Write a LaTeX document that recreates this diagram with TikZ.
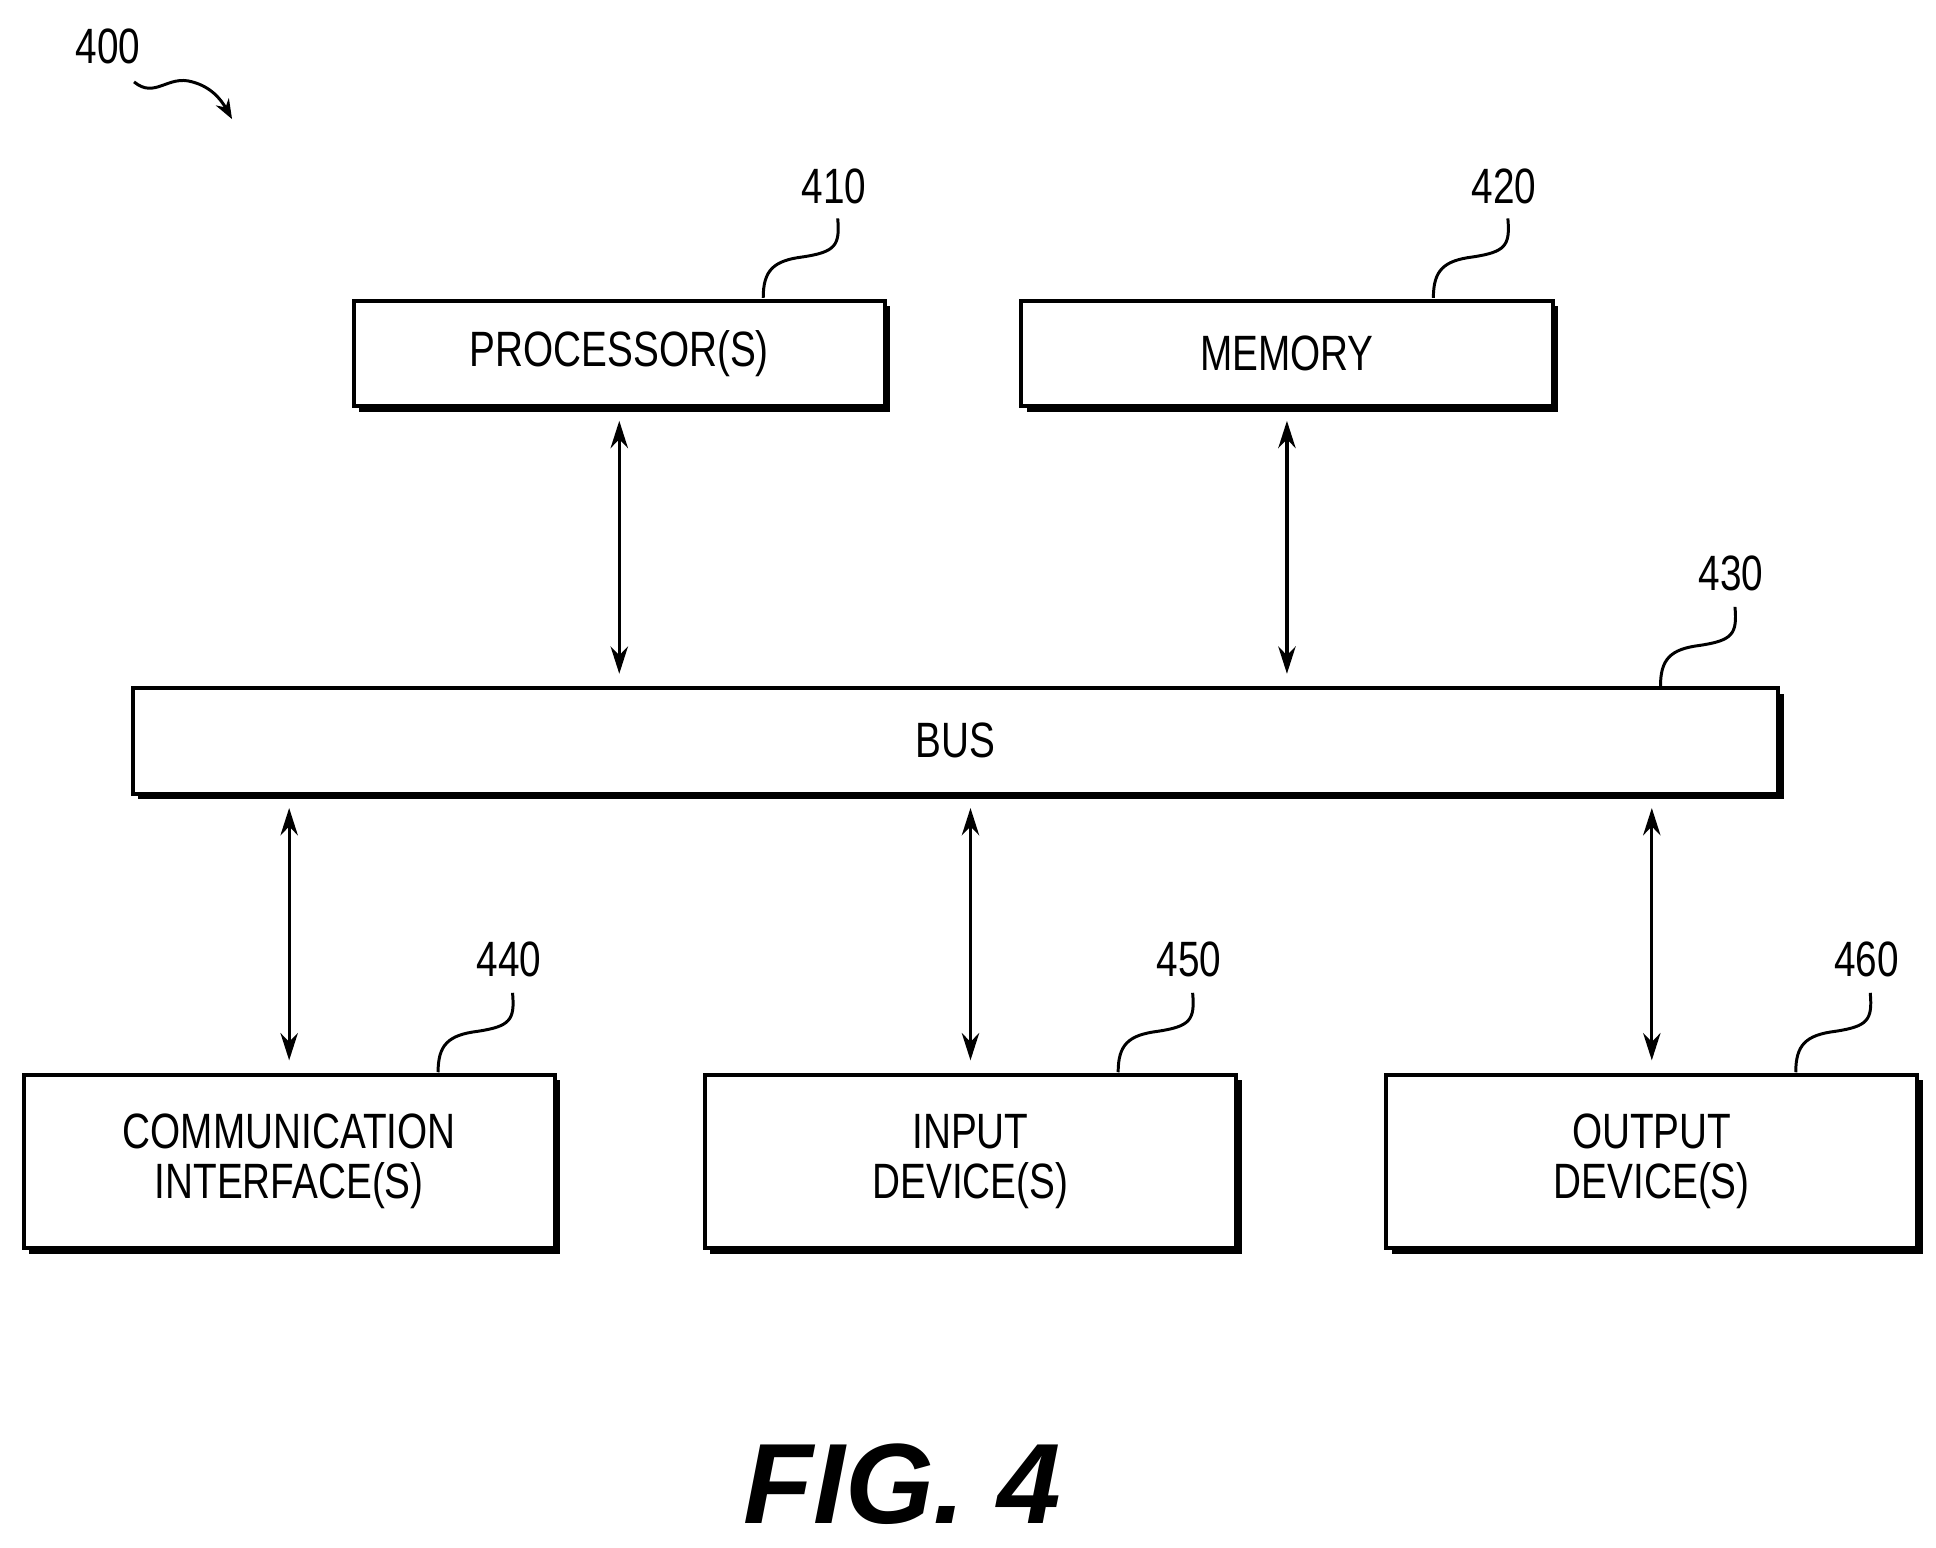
\documentclass[tikz,border=0pt]{standalone}
\usepackage{fontspec}
\setmainfont{Liberation Sans}[FakeStretch=0.78]
\newfontfamily\figfont{Liberation Sans}
\usetikzlibrary{arrows.meta,positioning,shadows,calc}

\tikzset{
  blk/.style={draw,line width=1.6pt,fill=white,minimum height=42.5pt,
    align=center,font=\fontsize{20}{20}\selectfont,
    drop shadow={shadow xshift=2.2pt,shadow yshift=-2.2pt,fill=black,opacity=1}},
  ref/.style={font=\fontsize{20}{20}\selectfont},
  bi/.style={{Stealth[length=11pt,width=7pt]}-{Stealth[length=11pt,width=7pt]},line width=1.3pt},
  lead/.style={line width=1.2pt}
}

\begin{document}
\begin{tikzpicture}[x=0.5pt,y=-0.5pt]
  \useasboundingbox (0,0) rectangle (1560,1247);

  % ---- Blocks ------------------------------------------------
  \node[blk,minimum width=214pt] (proc) at (499,285) {PROCESSOR(S)};
  \node[blk,minimum width=214pt] (mem)  at (1037,285) {MEMORY};
  \node[blk,minimum width=663pt] (bus)  at (770,597) {BUS};
  \node[blk,minimum width=214pt,minimum height=70pt] (comm) at (233,936)
    {COMMUNICATION\\INTERFACE(S)};
  \node[blk,minimum width=214pt,minimum height=70pt] (inp) at (782,936)
    {INPUT\\DEVICE(S)};
  \node[blk,minimum width=214pt,minimum height=70pt] (outp) at (1331,936)
    {OUTPUT\\DEVICE(S)};

  % ---- Bus connections ---------------------------------------
  \draw[bi] ([yshift=-5pt]proc.south) -- ([yshift=5pt]proc.south |- bus.north);
  \draw[bi] ([yshift=-5pt]mem.south) -- ([yshift=5pt]mem.south |- bus.north);
  \draw[bi] ([yshift=-5pt]comm.north |- bus.south) -- ([yshift=5pt]comm.north);
  \draw[bi] ([yshift=-5pt]inp.north |- bus.south) -- ([yshift=5pt]inp.north);
  \draw[bi] ([yshift=-5pt]outp.north |- bus.south) -- ([yshift=5pt]outp.north);

  % ---- Reference numerals ------------------------------------
  \node[ref] (n400) at (87,37) {400};
  \node[ref] (n410) at (672,150) {410};
  \node[ref] (n420) at (1212,150) {420};
  \node[ref] (n430) at (1395,462) {430};
  \node[ref] (n440) at (410,773) {440};
  \node[ref] (n450) at (958,773) {450};
  \node[ref] (n460) at (1504,773) {460};

  \draw[lead,-{Stealth[length=8pt,width=6pt]}] (108,66)
    .. controls (125,80) and (135,60) .. (155,66)
    .. controls (170,70) and (178,80) .. (187,96);
  \coordinate (c410) at (615,240);
  \coordinate (c420) at (1155,240);
  \coordinate (c430) at (1338,553);
  \coordinate (c440) at (353,864);
  \coordinate (c450) at (901,864);
  \coordinate (c460) at (1447,864);
  \foreach \c in {c410,c420,c430,c440,c450,c460}
    \draw[lead] (\c) .. controls ($(\c)+(0,-22)$) and ($(\c)+(8,-30)$) ..
      ($(\c)+(32,-33)$) .. controls ($(\c)+(58,-37)$) and ($(\c)+(62,-42)$) ..
      ($(\c)+(60,-64)$);

  % ---- Caption -----------------------------------------------
  \node[font=\figfont\fontsize{46}{46}\selectfont\bfseries\itshape] (fig) at (727,1196) {FIG. 4};
\end{tikzpicture}
\end{document}
